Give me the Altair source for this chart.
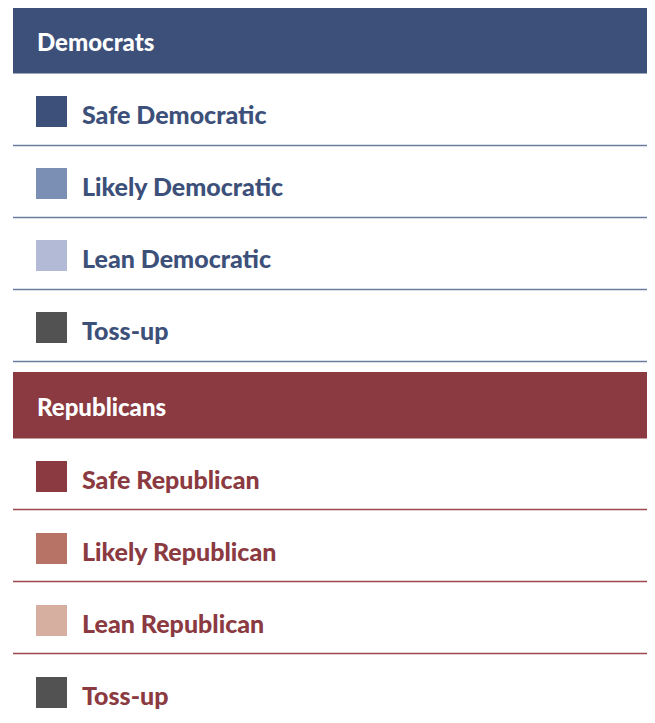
import altair as alt
import pandas as pd

# ---- content ----
sections = ["Democrats", "Republicans"]
dem_labels = ["Safe Democratic", "Likely Democratic", "Lean Democratic", "Toss-up"]
rep_labels = ["Safe Republican", "Likely Republican", "Lean Republican", "Toss-up"]
labels_by_section = [dem_labels, rep_labels]

# ---- styles ----
dem_swatches = ["#3c5079", "#7b8fb4", "#b3bad5", "#525252"]
rep_swatches = ["#8b3a41", "#b77366", "#d6afa0", "#525252"]
swatches_by_section = [dem_swatches, rep_swatches]
section_colors = ["#3c5079", "#8b3a41"]
line_colors = ["#6b7d9f", "#a0464e"]
FONT = "Lato"

# ---- layout (chart units) ----
W, H = 639, 703
TOP = -1
SECTION_PITCH = 365
HEADER_H = 66.5
ROW_H = 72
X0, X1 = 5, 639
HEADER_TX = 29
SQ_X0, SQ_X1 = 28, 59
ITEM_TX = 74

head_rows, item_rows = [], []
for s, sec in enumerate(sections):
    y0 = TOP + s * SECTION_PITCH
    y1 = y0 + HEADER_H
    head_rows.append(dict(section=sec, y0=max(y0, 0), y1=y1, yt=y0 + 43.5,
                          fill=section_colors[s]))
    for i, lab in enumerate(labels_by_section[s]):
        r0 = y1 + ROW_H * i
        item_rows.append(dict(section=sec, label=lab,
                              sq0=r0 + 22.5, sq1=r0 + 53.5, yt=r0 + 50,
                              yl=round(r0 + ROW_H) - 0.5,
                              swatch=swatches_by_section[s][i],
                              tcol=section_colors[s],
                              lcol=line_colors[s]))

heads = pd.DataFrame(head_rows)
items = pd.DataFrame(item_rows)
heads["x0"], heads["x1"], heads["xt"] = X0, X1, HEADER_TX
items["x0"], items["x1"] = X0, X1
items["sx0"], items["sx1"], items["xt"] = SQ_X0, SQ_X1, ITEM_TX
lines = items[items["yl"] < H].reset_index(drop=True)

xs = alt.Scale(domain=[0, W], range=[0, W])
ys = alt.Scale(domain=[0, H], reverse=True)
noax = None

band = alt.Chart(heads).mark_rect().encode(
    x=alt.X("x0:Q", scale=xs, axis=noax), x2="x1:Q",
    y=alt.Y("y0:Q", scale=ys, axis=noax), y2="y1:Q",
    color=alt.Color("fill:N", scale=None),
)
head_text = alt.Chart(heads).mark_text(
    align="left", baseline="alphabetic", font=FONT, fontWeight=900,
    fontSize=24, color="white"
).encode(
    x=alt.X("xt:Q", scale=xs, axis=noax),
    y=alt.Y("yt:Q", scale=ys, axis=noax),
    text="section:N",
)
rules = alt.Chart(lines).mark_rule(strokeWidth=1.3).encode(
    x=alt.X("x0:Q", scale=xs, axis=noax), x2="x1:Q",
    y=alt.Y("yl:Q", scale=ys, axis=noax),
    color=alt.Color("lcol:N", scale=None),
)
squares = alt.Chart(items).mark_rect().encode(
    x=alt.X("sx0:Q", scale=xs, axis=noax), x2="sx1:Q",
    y=alt.Y("sq0:Q", scale=ys, axis=noax), y2="sq1:Q",
    color=alt.Color("swatch:N", scale=None),
)
item_text = alt.Chart(items).mark_text(
    align="left", baseline="alphabetic", font=FONT, fontWeight=900,
    fontSize=25
).encode(
    x=alt.X("xt:Q", scale=xs, axis=noax),
    y=alt.Y("yt:Q", scale=ys, axis=noax),
    text="label:N",
    color=alt.Color("tcol:N", scale=None),
)

chart = alt.layer(band, head_text, rules, squares, item_text).properties(
    width=W, height=H, padding=0, background="white",
    autosize=alt.AutoSizeParams(type="none")
).configure_view(strokeWidth=0)

chart.save("out.html", embed_options={"renderer": "svg", "actions": False})
